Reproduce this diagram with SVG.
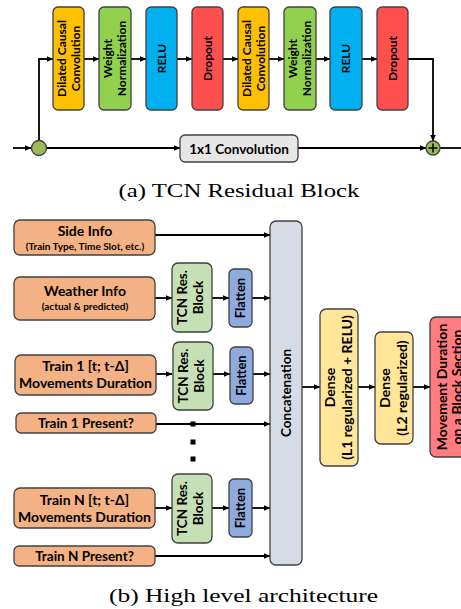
<svg xmlns="http://www.w3.org/2000/svg" width="461" height="609" viewBox="0 0 461 609">
<defs>
<marker id="ah" markerWidth="7" markerHeight="6" refX="6.5" refY="3" orient="auto" markerUnits="userSpaceOnUse">
<path d="M0,0 L7,3 L0,6 Z" fill="#000"/>
</marker>
<style>
.b{stroke:#404040;stroke-width:1.3}
.t{font-family:Lato,"Open Sans","Liberation Sans",sans-serif;font-weight:bold;fill:#000;text-anchor:middle}
.c{stroke:#000;stroke-width:1.8;fill:none}
.a{marker-end:url(#ah)}
.cap{font-family:"Liberation Serif","DejaVu Serif",serif;font-size:18.5px;fill:#000;text-anchor:middle}
</style>
</defs>
<rect width="461" height="609" fill="#fff"/>

<g id="connectors">
<line class="c a" x1="13" y1="148" x2="31" y2="148"/>
<polyline class="c a" points="39,141 39,59 53,59"/>
<line class="c a" x1="84" y1="59" x2="99" y2="59"/>
<line class="c a" x1="131" y1="59" x2="146" y2="59"/>
<line class="c a" x1="177" y1="59" x2="192" y2="59"/>
<line class="c a" x1="223" y1="59" x2="238" y2="59"/>
<line class="c a" x1="269" y1="59" x2="284" y2="59"/>
<line class="c a" x1="316" y1="59" x2="330" y2="59"/>
<line class="c a" x1="362" y1="59" x2="377" y2="59"/>
<polyline class="c a" points="408,59 433,59 433,141"/>
<line class="c a" x1="47" y1="148" x2="180" y2="148"/>
<line class="c a" x1="298" y1="148" x2="426" y2="148"/>
<line class="c" x1="440" y1="148" x2="461" y2="148"/>

<line class="c a" x1="155" y1="235" x2="270" y2="235"/>
<line class="c a" x1="155" y1="298" x2="172" y2="298"/>
<line class="c a" x1="212" y1="298" x2="229" y2="298"/>
<line class="c a" x1="252" y1="298" x2="270" y2="298"/>
<line class="c a" x1="156" y1="374" x2="172" y2="374"/>
<line class="c a" x1="213" y1="374" x2="230" y2="374"/>
<line class="c a" x1="253" y1="374" x2="270" y2="374"/>
<line class="c a" x1="156" y1="424" x2="270" y2="424"/>
<line class="c a" x1="155" y1="508" x2="172" y2="508"/>
<line class="c a" x1="212" y1="508" x2="229" y2="508"/>
<line class="c a" x1="252" y1="508" x2="270" y2="508"/>
<line class="c a" x1="155" y1="556" x2="270" y2="556"/>
<line class="c a" x1="302" y1="387" x2="320" y2="387"/>
<line class="c a" x1="358" y1="387" x2="375" y2="387"/>
<line class="c a" x1="413" y1="387" x2="430" y2="387"/>
<rect x="190.5" y="421.5" width="5" height="5" fill="#000"/>
<rect x="190.5" y="439.5" width="5" height="5" fill="#000"/>
<rect x="190.5" y="456.5" width="5" height="5" fill="#000"/>
</g>

<g id="split">
<circle class="b" cx="39" cy="148" r="7.5" fill="#9BBB59"/>
</g>
<g id="add">
<circle class="b" cx="433" cy="148" r="7" fill="#9BBB59"/>
<path d="M433,143.5 V152.5 M428.5,148 H437.5" stroke="#000" stroke-width="1.5"/>
</g>

<g id="dcc1"><rect class="b" x="53" y="7" width="31" height="103" rx="5" fill="#FFC000"/>
<text class="t" font-size="12" transform="translate(68.5,58.5) rotate(-90)"><tspan x="0" y="-3">Dilated Causal</tspan><tspan x="0" y="11">Convolution</tspan></text></g>
<g id="wn1"><rect class="b" x="99" y="7" width="32" height="103" rx="5" fill="#92D050"/>
<text class="t" font-size="12" transform="translate(115,58.5) rotate(-90)"><tspan x="0" y="-3">Weight</tspan><tspan x="0" y="11">Normalization</tspan></text></g>
<g id="relu1"><rect class="b" x="146" y="7" width="31" height="103" rx="5" fill="#00B0F0"/>
<text class="t" font-size="12" transform="translate(161.5,58.5) rotate(-90)" y="4">RELU</text></g>
<g id="drop1"><rect class="b" x="192" y="7" width="31" height="103" rx="5" fill="#FF5050"/>
<text class="t" font-size="12" transform="translate(207.5,58.5) rotate(-90)" y="4">Dropout</text></g>
<g id="dcc2"><rect class="b" x="238" y="7" width="31" height="103" rx="5" fill="#FFC000"/>
<text class="t" font-size="12" transform="translate(253.5,58.5) rotate(-90)"><tspan x="0" y="-3">Dilated Causal</tspan><tspan x="0" y="11">Convolution</tspan></text></g>
<g id="wn2"><rect class="b" x="284" y="7" width="32" height="103" rx="5" fill="#92D050"/>
<text class="t" font-size="12" transform="translate(300,58.5) rotate(-90)"><tspan x="0" y="-3">Weight</tspan><tspan x="0" y="11">Normalization</tspan></text></g>
<g id="relu2"><rect class="b" x="330" y="7" width="32" height="103" rx="5" fill="#00B0F0"/>
<text class="t" font-size="12" transform="translate(346,58.5) rotate(-90)" y="4">RELU</text></g>
<g id="drop2"><rect class="b" x="377" y="7" width="31" height="103" rx="5" fill="#FF5050"/>
<text class="t" font-size="12" transform="translate(392.5,58.5) rotate(-90)" y="4">Dropout</text></g>
<g id="conv1x1"><rect class="b" x="180" y="135" width="118" height="27" rx="5" fill="#E7E6E6"/>
<text class="t" font-size="13.5" x="239" y="153.5">1x1 Convolution</text></g>

<text class="cap" x="239" y="197" textLength="241" lengthAdjust="spacingAndGlyphs">(a) TCN Residual Block</text>

<g id="side"><rect class="b" x="14" y="220" width="141" height="35" rx="6" fill="#F4B183"/>
<text class="t" font-size="14" x="85" y="236">Side Info</text>
<text class="t" font-size="10" x="85" y="250">(Train Type, Time Slot, etc.)</text></g>
<g id="weather"><rect class="b" x="14" y="277" width="141" height="43" rx="6" fill="#F4B183"/>
<text class="t" font-size="14" x="85" y="296">Weather Info</text>
<text class="t" font-size="10" x="85" y="310">(actual &amp; predicted)</text></g>
<g id="train1"><rect class="b" x="15" y="355" width="141" height="40" rx="6" fill="#F4B183"/>
<text class="t" font-size="14" x="85.5" y="371">Train 1 [t; t-Δ]</text>
<text class="t" font-size="14" x="85.5" y="388">Movements Duration</text></g>
<g id="train1p"><rect class="b" x="16" y="413" width="140" height="20" rx="5" fill="#F4B183"/>
<text class="t" font-size="13.5" x="86" y="428">Train 1 Present?</text></g>
<g id="trainN"><rect class="b" x="14" y="488" width="141" height="40" rx="6" fill="#F4B183"/>
<text class="t" font-size="14" x="84.5" y="505">Train N [t; t-Δ]</text>
<text class="t" font-size="14" x="84.5" y="522">Movements Duration</text></g>
<g id="trainNp"><rect class="b" x="14" y="546" width="141" height="20" rx="5" fill="#F4B183"/>
<text class="t" font-size="13.5" x="84.5" y="561">Train N Present?</text></g>

<g id="tcn1"><rect class="b" x="172" y="263" width="40" height="69" rx="6" fill="#C5E0B4"/>
<text class="t" font-size="13.5" transform="translate(192,297.5) rotate(-90)"><tspan x="0" y="-5">TCN Res.</tspan><tspan x="0" y="11">Block</tspan></text></g>
<g id="flat1"><rect class="b" x="229" y="269" width="23" height="58" rx="5" fill="#8FAADC"/>
<text class="t" font-size="13" transform="translate(240.5,298) rotate(-90)" y="4.5">Flatten</text></g>
<g id="tcn2"><rect class="b" x="173" y="342" width="40" height="68" rx="6" fill="#C5E0B4"/>
<text class="t" font-size="13.5" transform="translate(193,376) rotate(-90)"><tspan x="0" y="-5">TCN Res.</tspan><tspan x="0" y="11">Block</tspan></text></g>
<g id="flat2"><rect class="b" x="230" y="347" width="23" height="57" rx="5" fill="#8FAADC"/>
<text class="t" font-size="13" transform="translate(241.5,375.5) rotate(-90)" y="4.5">Flatten</text></g>
<g id="tcnN"><rect class="b" x="172" y="474" width="40" height="69" rx="6" fill="#C5E0B4"/>
<text class="t" font-size="13.5" transform="translate(192,508.5) rotate(-90)"><tspan x="0" y="-5">TCN Res.</tspan><tspan x="0" y="11">Block</tspan></text></g>
<g id="flatN"><rect class="b" x="229" y="479" width="23" height="58" rx="5" fill="#8FAADC"/>
<text class="t" font-size="13" transform="translate(240.5,508) rotate(-90)" y="4.5">Flatten</text></g>

<g id="concat"><rect class="b" x="270" y="221" width="32" height="344" rx="6" fill="#D6DCE5"/>
<text class="t" font-size="13.5" transform="translate(286,393) rotate(-90)" y="5">Concatenation</text></g>
<g id="dense1"><rect class="b" x="320" y="309" width="38" height="157" rx="6" fill="#FFE699"/>
<text class="t" font-size="14" transform="translate(339,387.5) rotate(-90)"><tspan x="0" y="-4">Dense</tspan><tspan x="0" y="13">(L1 regularized + RELU)</tspan></text></g>
<g id="dense2"><rect class="b" x="375" y="332" width="38" height="112" rx="6" fill="#FFE699"/>
<text class="t" font-size="14" transform="translate(394,388) rotate(-90)"><tspan x="0" y="-4">Dense</tspan><tspan x="0" y="13">(L2 regularized)</tspan></text></g>
<g id="output"><rect class="b" x="430" y="317" width="40" height="140" rx="6" fill="#FF7C80"/>
<text class="t" font-size="14" transform="translate(450,387) rotate(-90)"><tspan x="0" y="-3">Movement Duration</tspan><tspan x="0" y="12">on a Block Section</tspan></text></g>

<text class="cap" x="243.5" y="602" textLength="269" lengthAdjust="spacingAndGlyphs">(b) High level architecture</text>
</svg>
